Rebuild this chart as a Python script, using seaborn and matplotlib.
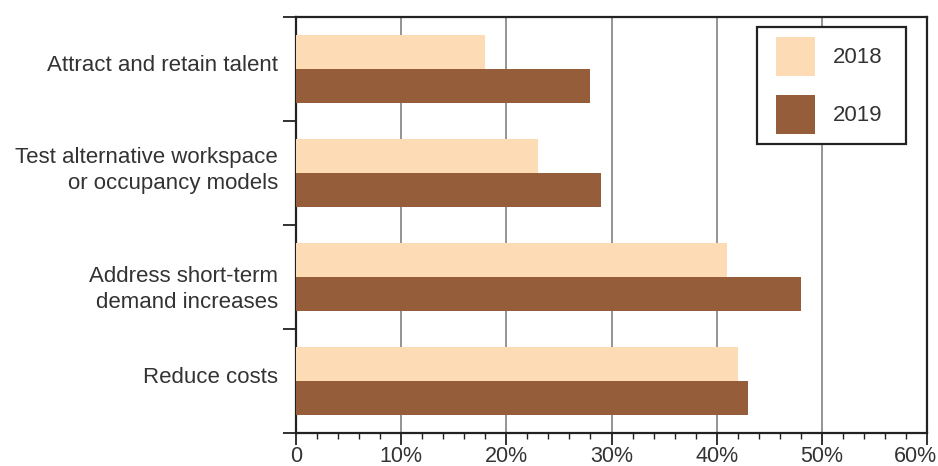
import matplotlib
matplotlib.use("Agg")
import matplotlib.pyplot as plt
import matplotlib.transforms as mtransforms
from matplotlib.patches import Rectangle
from matplotlib.legend_handler import HandlerPatch
import seaborn as sns
import pandas as pd
import numpy as np
from matplotlib.ticker import MultipleLocator, FixedLocator

categories = ["Attract and retain talent",
              "Test alternative workspace\nor occupancy models",
              "Address short-term\ndemand increases",
              "Reduce costs"]
years = ["2018", "2019"]
values_2018 = [18, 23, 41, 42]
values_2019 = [28, 29, 48, 43]
colors = ["#FDDBB4", "#955D3A"]

df = pd.DataFrame({
    "category": categories * 2,
    "year": [years[0]] * 4 + [years[1]] * 4,
    "value": values_2018 + values_2019,
})

sns.set_theme(style="white")
plt.rcParams["font.family"] = ["Liberation Sans", "DejaVu Sans"]
text_color = "#333333"

fig = plt.figure(figsize=(9.38, 4.66), dpi=100)
ax = fig.add_axes([296/938, 1 - 433/466, (927 - 296)/938, (433 - 17)/466])

sns.barplot(data=df, y="category", x="value", hue="year", orient="h",
            palette=colors, width=0.66, saturation=1, linewidth=0,
            ax=ax, zorder=3)

ax.set_xlim(0, 60)
ax.set_ylim(3.5, -0.5)
ax.set_xlabel("")
ax.set_ylabel("")

ax.set_xticks(np.arange(0, 61, 10))
ax.set_xticklabels(["0"] + [f"{v}%" for v in range(10, 61, 10)])
ax.xaxis.set_minor_locator(MultipleLocator(2))
ax.tick_params(axis="x", which="major", direction="out", length=8.6, width=1.3,
               color="#222222", labelsize=15.5, labelcolor=text_color, pad=0.5, bottom=True)
ax.tick_params(axis="x", which="minor", direction="out", length=4.3, width=1.0,
               color="#222222", bottom=True)
# last tick label sits against the right edge of the figure
last = ax.get_xticklabels()[-1]
last.set_horizontalalignment("right")
last.set_transform(last.get_transform() +
                   mtransforms.ScaledTranslation(10 / 100, 0, fig.dpi_scale_trans))

ax.set_yticks(range(len(categories)))
ax.set_yticklabels(categories, ha="right", multialignment="right", linespacing=1.25)
ax.yaxis.set_minor_locator(FixedLocator([-0.5, 0.5, 1.5, 2.5, 3.5]))
ax.tick_params(axis="y", which="major", length=0, labelsize=16,
               labelcolor=text_color, pad=13)
ax.tick_params(axis="y", which="minor", direction="out", length=9.3, width=1.3,
               color="#222222", left=True)
label_shift_px = [6, 7, -8, 6]
for lbl, dy in zip(ax.get_yticklabels(), label_shift_px):
    lbl.set_transform(lbl.get_transform() +
                      mtransforms.ScaledTranslation(0, dy / 100, fig.dpi_scale_trans))

ax.grid(axis="x", which="major", color="#777777", linewidth=1.1, zorder=0)
ax.grid(axis="y", visible=False)
ax.set_axisbelow(True)

for side in ["left", "right", "top", "bottom"]:
    ax.spines[side].set_visible(True)
    ax.spines[side].set_color("#222222")
    ax.spines[side].set_linewidth(1.6)


def square_patch(legend, orig_handle, xdescent, ydescent, width, height, fontsize):
    side = height
    return Rectangle(xy=(-xdescent + width - side, -ydescent), width=side, height=side)


handles, labels = ax.get_legend_handles_labels()
x0 = (757 - 296) / 631
w = (906 - 757) / 631
top = (433 - 27) / 416
leg = ax.legend(handles, labels, loc="upper left",
                bbox_to_anchor=(x0, top - 0.4, w, 0.4), mode="expand",
                frameon=True, fancybox=False, fontsize=16,
                handlelength=2.16, handleheight=2.315,
                labelspacing=0.86, borderpad=0.45, handletextpad=0.81,
                borderaxespad=0, edgecolor="#222222", framealpha=1,
                handler_map={Rectangle: HandlerPatch(patch_func=square_patch)})
leg.get_frame().set_linewidth(1.6)
for t in leg.get_texts():
    t.set_color(text_color)

fig.savefig("out.png", dpi=100)
